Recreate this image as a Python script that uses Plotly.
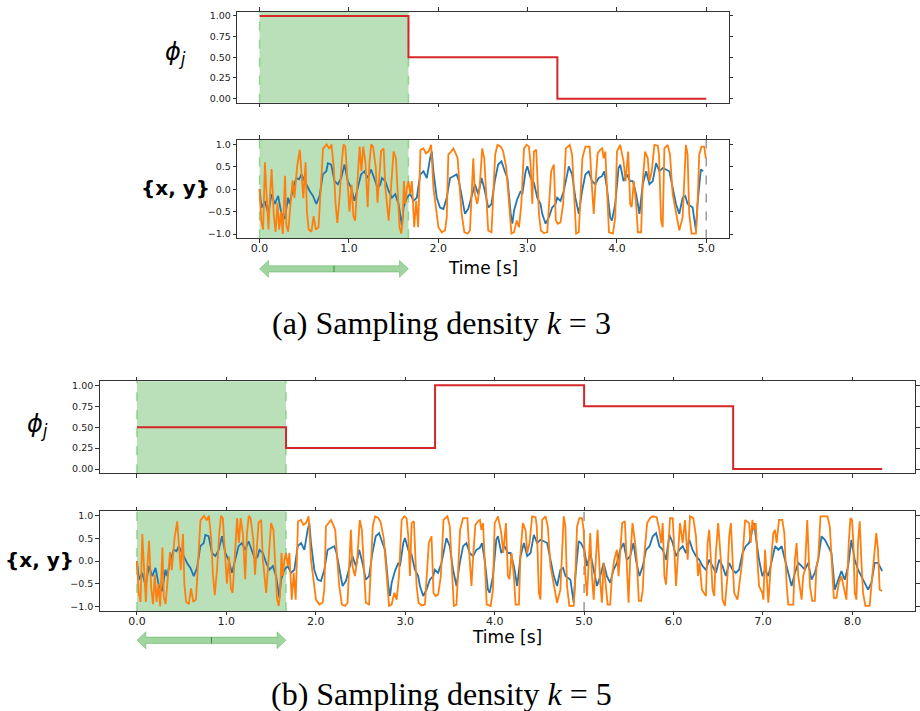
import numpy as np
import plotly.graph_objects as go

# ---------------- data ----------------
seg_len = 5.0 / 3.0
phi_a = [1.0, 0.5, 0.0]
phi_b = [0.5, 0.25, 1.0, 0.75, 0.0]

# orange series (y): time [s], value
y_time = [0.000, 0.019, 0.040, 0.060, 0.078, 0.100, 0.115, 0.135, 0.160, 0.180, 0.200, 0.220, 0.240, 0.260,
          0.285, 0.300, 0.320, 0.345, 0.370, 0.390, 0.420, 0.450, 0.470, 0.490, 0.515, 0.530, 0.550, 0.580,
          0.605, 0.630, 0.660, 0.690, 0.710, 0.730, 0.750, 0.780, 0.805, 0.830, 0.850, 0.870, 0.895, 0.920,
          0.940, 0.960, 0.985, 1.006, 1.030, 1.050, 1.070, 1.095, 1.120, 1.140, 1.160, 1.185, 1.210, 1.230,
          1.250, 1.270, 1.300, 1.320, 1.340, 1.360, 1.389, 1.408, 1.445, 1.474, 1.500, 1.526, 1.548, 1.567,
          1.586, 1.601, 1.616, 1.630, 1.649, 1.667, 1.686, 1.705, 1.731, 1.753, 1.775, 1.801, 1.835, 1.861,
          1.890, 1.920, 1.946, 1.972, 2.002, 2.039, 2.076, 2.095, 2.113, 2.143, 2.169, 2.195, 2.217, 2.240,
          2.262, 2.292, 2.329, 2.355, 2.373, 2.392, 2.410, 2.437, 2.463, 2.492, 2.515, 2.540, 2.559, 2.596,
          2.619, 2.637, 2.663, 2.700, 2.726, 2.760, 2.780, 2.793, 2.819, 2.848, 2.878, 2.904, 2.930, 2.960,
          2.989, 3.015, 3.034, 3.053, 3.071, 3.097, 3.127, 3.149, 3.183, 3.220, 3.242, 3.264, 3.294, 3.316,
          3.339, 3.368, 3.398, 3.428, 3.472, 3.498, 3.517, 3.543, 3.573, 3.591, 3.613, 3.647, 3.695, 3.721,
          3.740, 3.762, 3.784, 3.814, 3.836, 3.851, 3.870, 3.888, 3.911, 3.955, 3.981, 4.000, 4.037, 4.074,
          4.096, 4.126, 4.148, 4.165, 4.189, 4.215, 4.234, 4.271, 4.289, 4.315, 4.345, 4.364, 4.390, 4.419,
          4.457, 4.471, 4.494, 4.512, 4.531, 4.568, 4.594, 4.624, 4.661, 4.698, 4.735, 4.772, 4.791, 4.809,
          4.835, 4.884, 4.902, 4.921, 4.947, 4.977, 4.995, 5.014, 5.032, 5.051, 5.069, 5.088, 5.107, 5.129,
          5.151, 5.181, 5.199, 5.218, 5.236, 5.263, 5.292, 5.311, 5.337, 5.367, 5.385, 5.404, 5.426, 5.456,
          5.478, 5.497, 5.515, 5.541, 5.571, 5.589, 5.612, 5.638, 5.656, 5.675, 5.705, 5.738, 5.768, 5.812,
          5.842, 5.861, 5.879, 5.898, 5.916, 5.935, 5.961, 5.991, 6.009, 6.028, 6.046, 6.072, 6.102, 6.128,
          6.158, 6.184, 6.221, 6.251, 6.273, 6.291, 6.317, 6.362, 6.381, 6.399, 6.418, 6.436, 6.455, 6.473,
          6.499, 6.529, 6.548, 6.574, 6.603, 6.622, 6.641, 6.659, 6.678, 6.715, 6.752, 6.770, 6.800, 6.845,
          6.863, 6.882, 6.900, 6.919, 6.938, 6.956, 6.993, 7.005, 7.023, 7.042, 7.060, 7.097, 7.116, 7.135,
          7.153, 7.179, 7.216, 7.239, 7.265, 7.283, 7.339, 7.357, 7.376, 7.395, 7.432, 7.450, 7.469, 7.495,
          7.525, 7.551, 7.580, 7.599, 7.617, 7.643, 7.721, 7.747, 7.766, 7.792, 7.822, 7.848, 7.877, 7.933,
          7.959, 7.978, 7.996, 8.011, 8.026, 8.045, 8.063, 8.082, 8.100, 8.119, 8.145, 8.193, 8.212, 8.238,
          8.267, 8.286, 8.305, 8.333]
y_value = [0.00, -0.70, -0.90, 0.60, -0.10, -0.90, -0.20, 0.45, -0.60, -0.95, -0.30, -0.90, -0.50, -1.00,
           0.30, -0.80, -0.95, -0.30, 0.20, -0.20, 0.50, 0.88, 0.40, -0.20, 0.60, -0.50, -0.90, -0.95,
           -0.60, -0.90, -0.85, 0.30, 0.90, 0.95, 1.00, 0.90, 1.00, 0.50, -0.30, -0.75, -0.20, 0.60,
           1.00, 0.95, 0.20, -0.50, 0.10, -0.60, -0.70, 0.20, 0.95, 0.40, 0.95, 0.60, -0.40, 0.60,
           1.00, 0.95, 0.50, -0.30, 0.20, 0.85, 0.91, 0.03, -0.70, 0.03, 0.84, 0.69, -0.33, -0.85,
           -0.99, -0.70, 0.18, -0.33, 0.03, 0.18, -0.11, 0.18, -0.85, -0.26, -0.85, 0.88, 0.91, 0.80,
           0.84, 0.99, 0.03, -0.33, -0.85, -0.96, -0.92, -0.63, 0.77, 0.84, 0.91, 0.80, 0.69, 0.03,
           -0.55, -0.96, -0.99, -0.92, 0.03, 0.69, -0.11, -0.33, 0.03, 0.91, 0.69, -0.33, -0.92, -0.96,
           0.03, 0.77, 0.99, 0.95, 0.85, 0.50, 0.00, -0.33, -0.99, -0.96, -0.70, -0.85, -0.33, 0.91,
           0.99, 0.95, 0.55, -0.33, 0.84, 0.88, -0.55, -0.92, -0.98, -0.96, -0.33, 0.40, 0.55, -0.70,
           -0.77, -0.74, -0.33, 0.91, 0.99, 0.77, 0.03, -0.99, -0.96, -0.33, 0.69, 0.95, 0.95, 0.03,
           -0.55, 0.18, 0.80, 0.88, 0.91, 0.69, 0.84, 0.03, -0.96, -0.99, -0.63, 0.84, 0.99, 0.62,
           0.18, 0.84, -0.33, -0.40, 0.18, -0.33, -0.96, -0.96, 0.18, 0.84, 0.69, 0.18, 0.40, 0.99,
           0.97, 0.77, -0.70, -0.85, 0.91, 0.99, 0.77, -0.11, -0.55, -0.92, -0.63, 0.99, 0.77, -0.55,
           -0.99, -0.99, -0.33, 0.77, 0.95, 0.95, 0.69, -0.33, -0.77, 0.03, 0.62, -0.33, -0.85, -0.04,
           0.69, -0.48, -0.92, -0.04, -0.48, -0.96, -0.96, -0.33, 0.03, 0.25, -0.33, 0.33, 0.84, 0.88,
           -0.33, -0.92, 0.03, 0.84, 0.40, 0.03, -0.88, -0.88, -0.63, 0.18, 0.84, 0.95, 0.99, 0.97,
           0.69, 0.40, 0.84, -0.33, -0.52, 0.03, 0.95, 0.95, 0.03, -0.55, 0.03, 0.84, 0.40, 0.91,
           0.03, 0.99, 0.95, 0.55, -0.33, -0.04, -0.63, -0.77, 0.40, 0.69, 0.03, -0.63, -0.77, 0.18,
           0.84, 0.03, -0.85, -0.99, -0.33, 0.55, 0.84, 0.03, -0.70, -0.85, -0.19, 0.03, 0.91, 0.84,
           0.40, 0.91, 0.69, 0.84, 0.03, -0.55, -0.70, -0.85, 0.25, -0.33, -0.92, 0.18, 0.62, 0.69,
           0.40, 0.91, 0.91, 0.62, -0.55, -0.96, -0.96, 0.03, 0.40, -0.33, -0.85, -0.33, -0.19, 0.91,
           -0.55, -0.88, -0.88, -0.11, 0.03, 0.99, 0.99, 0.77, 0.03, -0.81, -0.81, -0.48, -0.33, -0.85,
           0.40, 0.95, 0.91, 0.40, -0.70, -0.85, 0.40, 0.88, 0.03, -0.70, -0.99, -0.99, -0.55, 0.03,
           0.62, 0.25, -0.63, -0.66]

# blue series (x): time [s], value
x_time = [0.000, 0.022, 0.059, 0.097, 0.134, 0.171, 0.208, 0.245, 0.282, 0.319, 0.338, 0.375, 0.412, 0.442,
          0.468, 0.505, 0.561, 0.598, 0.635, 0.672, 0.709, 0.747, 0.765, 0.802, 0.839, 0.877, 0.914, 0.951,
          0.988, 1.025, 1.062, 1.099, 1.136, 1.174, 1.211, 1.248, 1.285, 1.322, 1.350, 1.370, 1.408, 1.445,
          1.482, 1.519, 1.556, 1.593, 1.612, 1.649, 1.686, 1.723, 1.760, 1.798, 1.835, 1.872, 1.909, 1.928,
          1.946, 1.983, 2.020, 2.058, 2.095, 2.132, 2.169, 2.206, 2.232, 2.262, 2.299, 2.336, 2.373, 2.410,
          2.448, 2.485, 2.522, 2.559, 2.596, 2.633, 2.670, 2.708, 2.745, 2.774, 2.811, 2.830, 2.848, 2.885,
          2.923, 2.941, 2.978, 2.997, 3.034, 3.071, 3.108, 3.145, 3.164, 3.201, 3.238, 3.275, 3.313, 3.331,
          3.368, 3.405, 3.443, 3.461, 3.498, 3.535, 3.573, 3.610, 3.647, 3.684, 3.721, 3.758, 3.795, 3.832,
          3.858, 3.888, 3.925, 3.944, 3.981, 4.018, 4.037, 4.074, 4.111, 4.148, 4.178, 4.215, 4.252, 4.289,
          4.327, 4.364, 4.401, 4.438, 4.475, 4.512, 4.549, 4.587, 4.624, 4.661, 4.698, 4.735, 4.765, 4.791,
          4.847, 4.884, 4.902, 4.939, 4.965, 5.003, 5.032, 5.069, 5.107, 5.144, 5.181, 5.218, 5.255, 5.292,
          5.329, 5.367, 5.404, 5.441, 5.478, 5.515, 5.552, 5.582, 5.619, 5.656, 5.693, 5.731, 5.768, 5.805,
          5.842, 5.879, 5.916, 5.953, 5.991, 6.028, 6.065, 6.102, 6.139, 6.176, 6.213, 6.251, 6.288, 6.325,
          6.362, 6.399, 6.436, 6.473, 6.511, 6.548, 6.585, 6.622, 6.659, 6.696, 6.733, 6.771, 6.808, 6.845,
          6.882, 6.900, 6.919, 6.956, 6.993, 7.023, 7.060, 7.097, 7.116, 7.135, 7.172, 7.209, 7.246, 7.283,
          7.320, 7.357, 7.395, 7.432, 7.469, 7.506, 7.543, 7.580, 7.617, 7.655, 7.692, 7.729, 7.766, 7.803,
          7.840, 7.877, 7.915, 7.952, 7.989, 8.026, 8.063, 8.100, 8.137, 8.175, 8.212, 8.249, 8.286, 8.333]
x_value = [0.00, -0.41, -0.26, -0.55, -0.11, -0.33, -0.15, -0.55, -0.66, -0.19, -0.33, 0.03, 0.25, 0.22,
           0.33, 0.18, -0.04, -0.15, -0.33, -0.15, 0.33, 0.40, 0.58, 0.55, 0.18, 0.11, 0.25, 0.55,
           0.18, 0.03, -0.26, 0.03, 0.33, 0.40, 0.25, 0.44, 0.25, 0.03, 0.10, 0.25, 0.18, -0.04,
           -0.19, -0.11, -0.33, -0.81, -0.41, -0.19, -0.11, -0.26, -0.19, 0.33, 0.40, 0.25, 0.69, 0.84,
           0.40, -0.19, -0.41, -0.44, -0.19, 0.25, 0.29, 0.33, 0.18, -0.11, -0.55, -0.44, -0.19, 0.11,
           -0.11, 0.25, -0.04, -0.41, -0.33, 0.18, 0.55, 0.62, 0.40, 0.25, -0.55, -0.77, -0.48, -0.22,
           -0.04, -0.11, 0.40, 0.51, 0.25, 0.14, -0.19, -0.33, -0.55, -0.77, -0.63, -0.41, -0.33, -0.19,
           -0.26, -0.04, 0.33, 0.51, 0.33, -0.19, -0.55, -0.04, 0.33, 0.40, 0.18, 0.11, 0.25, 0.29,
           0.40, 0.03, -0.63, -0.70, -0.33, 0.47, 0.55, 0.18, 0.33, 0.18, 0.18, -0.11, -0.55, 0.11,
           0.40, 0.11, 0.18, 0.58, 0.40, 0.47, 0.44, 0.40, 0.03, -0.33, -0.55, -0.19, -0.15, -0.33,
           -0.41, -0.92, -0.33, 0.44, 0.40, 0.25, -0.11, 0.18, -0.19, -0.55, -0.33, -0.04, -0.33, -0.48,
           -0.19, -0.04, 0.25, 0.40, 0.03, 0.11, 0.40, 0.00, -0.33, -0.11, 0.25, 0.33, 0.55, 0.62,
           0.33, 0.25, 0.03, 0.58, 0.40, 0.11, 0.25, 0.33, 0.18, 0.47, 0.25, 0.11, 0.03, -0.11,
           -0.19, 0.03, -0.11, -0.26, 0.03, -0.11, -0.33, -0.04, -0.19, -0.26, -0.19, 0.18, 0.33, 0.40,
           0.69, 0.84, 0.55, 0.03, -0.33, -0.19, -0.33, 0.03, 0.18, 0.33, 0.25, 0.33, 0.03, -0.26,
           -0.55, -0.26, -0.04, -0.11, -0.19, -0.04, -0.41, -0.26, 0.03, 0.55, 0.47, 0.33, 0.18, -0.63,
           -0.41, -0.22, -0.41, -0.11, 0.47, 0.03, -0.19, -0.33, -0.48, -0.63, -0.48, -0.04, -0.04, -0.22]

x_tick_a = [0, 1, 2, 3, 4, 5]
x_tick_b = [0, 1, 2, 3, 4, 5, 6, 7, 8]
phi_ticks = [0.0, 0.25, 0.5, 0.75, 1.0]
sig_ticks = [-1.0, -0.5, 0.0, 0.5, 1.0]
caption_a = "(a) Sampling density <i>k</i> = 3"
caption_b = "(b) Sampling density <i>k</i> = 5"

# ---------------- colours / layout ----------------
RED = "#d62728"
BLUE = "#1f77b4"
ORANGE = "#ff7f0e"
GREEN_FILL = "rgba(44,160,44,0.33)"
GREEN_EDGE = "rgba(120,200,120,0.75)"
W, H = 920, 711


def px_y(p):
    return 1 - p / H


fig = go.Figure()

ty = np.array(y_time); vy = np.array(y_value)
tx = np.array(x_time); vx = np.array(x_value)
ma_y = ty <= 5.0 + 1e-9
ma_x = tx <= 5.0 + 1e-9


def step_xy(phi):
    xs = [i * seg_len for i in range(len(phi) + 1)]
    ys = list(phi) + [phi[-1]]
    return xs, ys


# panel (a)
xa, ya = step_xy(phi_a)
fig.add_trace(go.Scatter(x=xa, y=ya, mode="lines", line=dict(color=RED, width=2, shape="hv"),
                         xaxis="x", yaxis="y", showlegend=False))
fig.add_trace(go.Scatter(x=tx[ma_x], y=vx[ma_x], mode="lines", line=dict(color=BLUE, width=1.8),
                         xaxis="x2", yaxis="y2", showlegend=False))
fig.add_trace(go.Scatter(x=ty[ma_y], y=vy[ma_y], mode="lines", line=dict(color=ORANGE, width=1.8),
                         xaxis="x2", yaxis="y2", showlegend=False))
# panel (b)
xb, yb = step_xy(phi_b)
fig.add_trace(go.Scatter(x=xb, y=yb, mode="lines", line=dict(color=RED, width=2, shape="hv"),
                         xaxis="x3", yaxis="y3", showlegend=False))
fig.add_trace(go.Scatter(x=tx, y=vx, mode="lines", line=dict(color=BLUE, width=1.8),
                         xaxis="x4", yaxis="y4", showlegend=False))
fig.add_trace(go.Scatter(x=ty, y=vy, mode="lines", line=dict(color=ORANGE, width=1.8),
                         xaxis="x4", yaxis="y4", showlegend=False))

common = dict(showgrid=False, zeroline=False, showline=True, linecolor="#333", linewidth=1,
              mirror="ticks", ticks="outside", ticklen=3.5, tickwidth=1, tickcolor="#333",
              tickfont=dict(family="DejaVu Sans", size=9.5, color="#222"))
xtickfont = dict(family="DejaVu Sans", size=11, color="#222")

dom_xa = [238 / W, 731 / W]
dom_xb = [100 / W, 918 / W]
rng_a = [-0.25, 5.25]
rng_b = [-0.4167, 8.70]

fig.update_layout(
    width=W, height=H, margin=dict(l=0, r=0, t=0, b=0),
    paper_bgcolor="white", plot_bgcolor="white",
    xaxis=dict(common, domain=dom_xa, range=rng_a, tickvals=x_tick_a, showticklabels=False, anchor="y"),
    yaxis=dict(common, domain=[px_y(101.2), px_y(9.85)], range=[-0.05, 1.05], tickvals=phi_ticks,
               tickformat=".2f", anchor="x"),
    xaxis2=dict(common, domain=dom_xa, range=rng_a, tickvals=x_tick_a, tickformat=".1f", anchor="y2",
                tickfont=xtickfont, ticklabelstandoff=-4),
    yaxis2=dict(common, domain=[px_y(237.5), px_y(138.5)], range=[-1.1, 1.1], tickvals=sig_ticks,
                tickformat=".1f", anchor="x2"),
    xaxis3=dict(common, domain=dom_xb, range=rng_b, tickvals=x_tick_b, showticklabels=False, anchor="y3"),
    yaxis3=dict(common, domain=[px_y(473.2), px_y(380.8)], range=[-0.05, 1.05], tickvals=phi_ticks,
                tickformat=".2f", anchor="x3"),
    xaxis4=dict(common, domain=dom_xb, range=rng_b, tickvals=x_tick_b, tickformat=".1f", anchor="y4",
                tickfont=xtickfont, ticklabelstandoff=-4),
    yaxis4=dict(common, domain=[px_y(611.5), px_y(511.5)], range=[-1.1, 1.1], tickvals=sig_ticks,
                tickformat=".1f", anchor="x4"),
)

shapes = []
for xr, yr in [("x", "y"), ("x2", "y2"), ("x3", "y3"), ("x4", "y4")]:
    shapes.append(dict(type="rect", xref=xr, yref=yr + " domain", x0=0, x1=seg_len, y0=0, y1=1,
                       fillcolor=GREEN_FILL, line=dict(width=0), layer="below"))
    for xv in (0, seg_len):
        shapes.append(dict(type="line", xref=xr, yref=yr + " domain", x0=xv, x1=xv, y0=0, y1=1,
                           line=dict(color=GREEN_EDGE, width=1.5, dash="dash"), layer="below"))
for xr, yr in [("x2", "y2"), ("x4", "y4")]:
    shapes.append(dict(type="line", xref=xr, yref=yr + " domain", x0=5, x1=5, y0=0, y1=1,
                       line=dict(color="rgba(128,128,128,0.8)", width=1.5, dash="dash"), layer="below"))


def arrow(xr, yc_px, px_per_s):
    yc = px_y(yc_px)
    sh = 3.2 / H
    hh = 8.5 / H
    hl = 9.0 / px_per_s
    L = seg_len
    path = (f"M 0,{yc} L {hl},{yc+hh} L {hl},{yc+sh} L {L-hl},{yc+sh} L {L-hl},{yc+hh} "
            f"L {L},{yc} L {L-hl},{yc-hh} L {L-hl},{yc-sh} L {hl},{yc-sh} L {hl},{yc-hh} Z")
    shapes.append(dict(type="path", xref=xr, yref="paper", path=path,
                       fillcolor="rgba(44,160,44,0.45)", line=dict(color="rgba(44,160,44,0.35)", width=1)))
    shapes.append(dict(type="line", xref=xr, yref="paper", x0=L / 2, x1=L / 2, y0=yc - sh, y1=yc + sh,
                       line=dict(color="rgba(30,120,30,0.8)", width=1)))


arrow("x2", 268, 89.6)
arrow("x4", 641, 89.75)
fig.update_layout(shapes=shapes)

ann = []
phi_txt = "<i>ϕ</i><sub><i>j</i></sub>"
xy_txt = "<b>{x, y}</b>"
for (xc, yc, txt, sz) in [(176, 52, phi_txt, 24), (176, 187, xy_txt, 20),
                          (38, 425, phi_txt, 24), (40, 560, xy_txt, 20)]:
    ann.append(dict(x=xc / W, y=px_y(yc), xref="paper", yref="paper", text=txt, showarrow=False,
                    xanchor="center", yanchor="middle",
                    font=dict(family="DejaVu Sans", size=sz, color="black")))
for (xc, yc) in [((238 + 731) / 2, 267), (509, 638)]:
    ann.append(dict(x=xc / W, y=px_y(yc), xref="paper", yref="paper", text="Time [s]", showarrow=False,
                    xanchor="center", yanchor="middle", font=dict(family="DejaVu Sans", size=17, color="black")))
for (yc, txt) in [(322, caption_a), (695, caption_b)]:
    ann.append(dict(x=443 / W, y=px_y(yc), xref="paper", yref="paper", text=txt, showarrow=False,
                    xanchor="center", yanchor="middle",
                    font=dict(family="Liberation Serif", size=32, color="black")))
fig.update_layout(annotations=ann)

fig.write_html("out.html", config={"displayModeBar": False},
               post_script="document.body.style.margin='0';document.body.style.padding='0';"
                           "document.body.style.overflow='hidden';")
